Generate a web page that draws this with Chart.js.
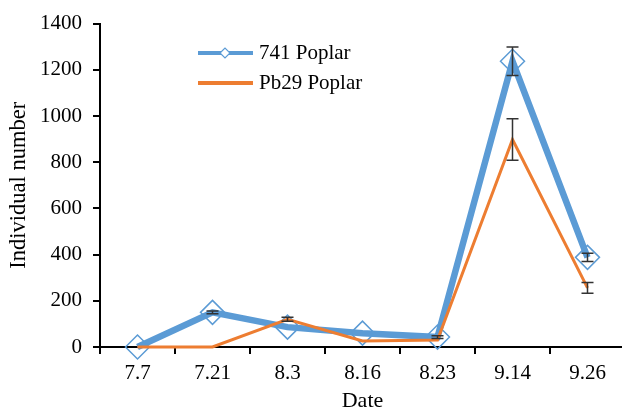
<!DOCTYPE html>
<html>
<head>
<meta charset="utf-8">
<script src="https://cdn.jsdelivr.net/npm/chart.js@4.4.1/dist/chart.umd.min.js"></script>
<style>
  html, body { margin: 0; padding: 0; background: #fff; overflow: hidden; }
  #wrap { width: 625px; height: 414px; }
</style>
</head>
<body>
<div id="wrap"><canvas id="graphCanvas"></canvas></div>
<script>
// 日付（カテゴリ）
const dates = ["7.7", "7.21", "8.3", "8.16", "8.23", "9.14", "9.26"];
// 741 Poplar の個体数と誤差
const poplar741 = [0, 150, 86, 60, 43, 1237, 388];
const poplar741Err = [0, 6, 0, 0, 6, 62, 18];
// Pb29 Poplar の個体数と誤差
const pb29 = [0, 0, 120, 26, 30, 898, 256];
const pb29Err = [0, 0, 9, 0, 0, 90, 23];
// y 軸目盛
const yTicks = [0, 200, 400, 600, 800, 1000, 1200, 1400];

const BLUE = "#5B9BD5";
const ORANGE = "#ED7D31";
const FONT = "'Liberation Serif', 'Times New Roman', serif";

/** 誤差棒を描くプラグイン */
const errorBars = {
  id: "errorBars",
  afterDatasetsDraw(chart) {
    const ctx = chart.ctx;
    const y = chart.scales.y;
    ctx.save();
    ctx.strokeStyle = "#333";
    ctx.lineWidth = 1.5;
    chart.data.datasets.forEach((ds, i) => {
      const meta = chart.getDatasetMeta(i);
      ds.errors.forEach((e, j) => {
        if (!e) return;
        const px = meta.data[j].x;
        const top = y.getPixelForValue(ds.data[j] + e);
        const bot = y.getPixelForValue(ds.data[j] - e);
        ctx.beginPath();
        ctx.moveTo(px, top);
        ctx.lineTo(px, bot);
        ctx.moveTo(px - 6, top);
        ctx.lineTo(px + 6, top);
        ctx.moveTo(px - 6, bot);
        ctx.lineTo(px + 6, bot);
        ctx.stroke();
      });
    });
    ctx.restore();
  },
};

/** グラフ内の凡例 */
const innerLegend = {
  id: "innerLegend",
  afterDraw(chart) {
    const ctx = chart.ctx;
    ctx.save();
    ctx.font = "21px " + FONT;
    ctx.textBaseline = "middle";
    chart.data.datasets.forEach((ds, i) => {
      const ly = 53 + i * 30;
      ctx.strokeStyle = ds.borderColor;
      ctx.lineWidth = 4;
      ctx.beginPath();
      ctx.moveTo(198, ly);
      ctx.lineTo(253, ly);
      ctx.stroke();
      if (ds.pointStyle === "rectRot") {
        ctx.fillStyle = "#fff";
        ctx.strokeStyle = BLUE;
        ctx.lineWidth = 1.2;
        ctx.beginPath();
        ctx.moveTo(220, ly);
        ctx.lineTo(225, ly - 5);
        ctx.lineTo(230, ly);
        ctx.lineTo(225, ly + 5);
        ctx.closePath();
        ctx.fill();
        ctx.stroke();
      }
      ctx.fillStyle = "#000";
      ctx.fillText(ds.label, 259, ly);
    });
    ctx.restore();
  },
};

const ctx = document.getElementById("graphCanvas").getContext("2d");
new Chart(ctx, {
  type: "line",
  data: {
    labels: dates,
    datasets: [
      {
        label: "741 Poplar",
        data: poplar741,
        errors: poplar741Err,
        borderColor: BLUE,
        borderWidth: 6.5,
        pointStyle: "rectRot",
        pointRadius: 12,
        pointBorderWidth: 1.5,
        pointBorderColor: BLUE,
        pointBackgroundColor: "rgba(255,255,255,0)",
        tension: 0,
        clip: false,
        order: 2,
      },
      {
        label: "Pb29 Poplar",
        data: pb29,
        errors: pb29Err,
        borderColor: ORANGE,
        borderWidth: 3,
        pointRadius: 0,
        tension: 0,
        clip: false,
        order: 1,
      },
    ],
  },
  options: {
    animation: false,
    responsive: true,
    maintainAspectRatio: false,
    layout: { autoPadding: false, padding: { top: 18, right: 0, left: 0, bottom: 0 } },
    plugins: {
      legend: { display: false },
      tooltip: { enabled: false },
    },
    scales: {
      x: {
        offset: true,
        border: { color: "#000", width: 2 },
        grid: {
          offset: true,
          drawOnChartArea: false,
          color: "#000",
          lineWidth: 2,
          tickLength: 7,
        },
        ticks: { color: "#000", font: { family: FONT, size: 21 }, padding: 7, maxRotation: 0 },
        title: {
          display: true,
          text: "Date",
          color: "#000",
          font: { family: FONT, size: 22 },
          padding: { top: 0, bottom: 0 },
        },
        afterFit: (scale) => { scale.height = 67; },
      },
      y: {
        min: 0,
        max: 1400,
        afterBuildTicks: (scale) => { scale.ticks = yTicks.map((v) => ({ value: v })); },
        border: { color: "#000", width: 2 },
        grid: {
          drawOnChartArea: false,
          color: "#000",
          lineWidth: 2,
          tickLength: 7,
        },
        ticks: {
          color: "#000",
          font: { family: FONT, size: 21 },
          padding: 11,
          callback: (v) => String(v),
        },
        title: {
          display: true,
          text: "Individual number",
          color: "#000",
          font: { family: FONT, size: 22.5 },
          padding: { top: 6, bottom: 0 },
        },
        afterFit: (scale) => { scale.width = 100; },
      },
    },
  },
  plugins: [errorBars, innerLegend],
});
</script>
</body>
</html>
